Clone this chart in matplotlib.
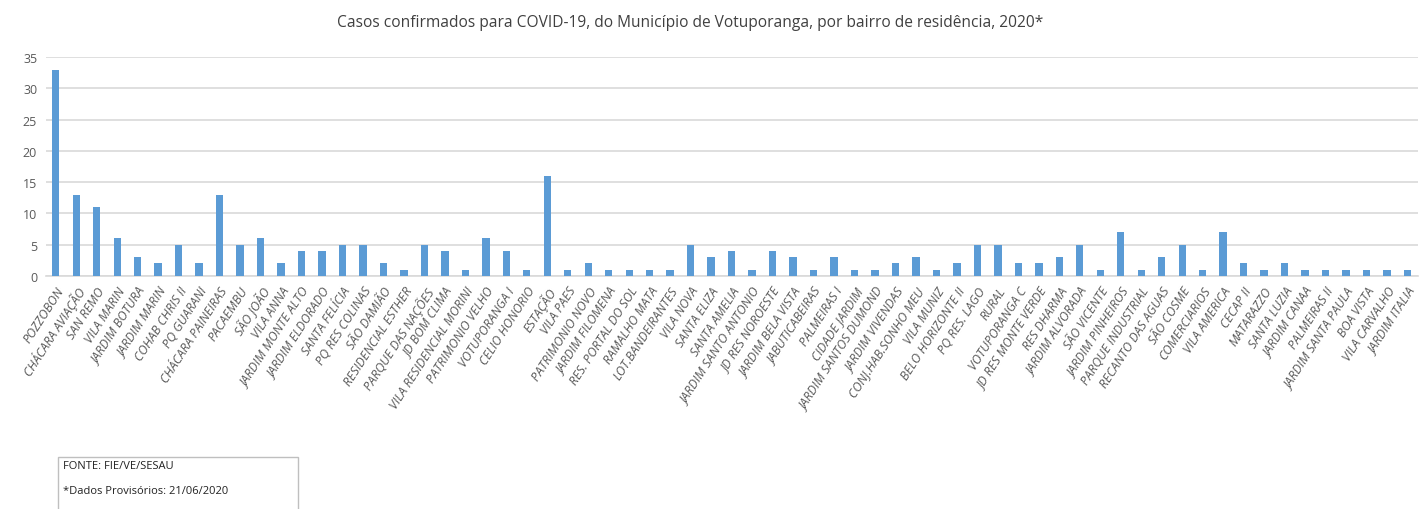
import matplotlib.pyplot as plt
from matplotlib.patches import Rectangle

plt.rcParams['font.family'] = ['Open Sans', 'DejaVu Sans']

# bairros e casos confirmados
bairros = [
    'POZZOBON', 'CHÁCARA AVIAÇÃO', 'SAN REMO', 'VILA MARIN', 'JARDIM BOTURA',
    'JARDIM MARIN', 'COHAB CHRIS II', 'PQ GUARANI', 'CHÁCARA PAINEIRAS', 'PACAEMBU',
    'SÃO JOÃO', 'VILA ANNA', 'JARDIM MONTE ALTO', 'JARDIM ELDORADO', 'SANTA FELÍCIA',
    'PQ RES COLINAS', 'SÃO DAMIÃO', 'RESIDENCIAL ESTHER', 'PARQUE DAS NAÇÕES', 'JD BOM CLIMA',
    'VILA RESIDENCIAL MORINI', 'PATRIMONIO VELHO', 'VOTUPORANGA I', 'CELIO HONORIO', 'ESTAÇÃO',
    'VILA PAES', 'PATRIMONIO NOVO', 'JARDIM FILOMENA', 'RES. PORTAL DO SOL', 'RAMALHO MATA',
    'LOT.BANDEIRANTES', 'VILA NOVA', 'SANTA ELIZA', 'SANTA AMELIA', 'JARDIM SANTO ANTONIO',
    'JD RES NOROESTE', 'JARDIM BELA VISTA', 'JABUTICABEIRAS', 'PALMEIRAS I', 'CIDADE JARDIM',
    'JARDIM SANTOS DUMOND', 'JARDIM VIVENDAS', 'CONJ.HAB.SONHO MEU', 'VILA MUNIZ', 'BELO HORIZONTE II',
    'PQ RES. LAGO', 'RURAL', 'VOTUPORANGA C', 'JD RES MONTE VERDE', 'RES DHARMA',
    'JARDIM ALVORADA', 'SÃO VICENTE', 'JARDIM PINHEIROS', 'PARQUE INDUSTRIAL', 'RECANTO DAS AGUAS',
    'SÃO COSME', 'COMERCIARIOS', 'VILA AMERICA', 'CECAP II', 'MATARAZZO',
    'SANTA LUZIA', 'JARDIM CANAA', 'PALMEIRAS II', 'JARDIM SANTA PAULA', 'BOA VISTA',
    'VILA CARVALHO', 'JARDIM ITALIA',
]
casos = [
    33, 13, 11, 6, 3,
    2, 5, 2, 13, 5,
    6, 2, 4, 4, 5,
    5, 2, 1, 5, 4,
    1, 6, 4, 1, 16,
    1, 2, 1, 1, 1,
    1, 5, 3, 4, 1,
    4, 3, 1, 3, 1,
    1, 2, 3, 1, 2,
    5, 5, 2, 2, 3,
    5, 1, 7, 1, 3,
    5, 1, 7, 2, 1,
    2, 1, 1, 1, 1,
    1, 1,
]
y_ticks = [0, 5, 10, 15, 20, 25, 30, 35]

fig = plt.figure(figsize=(14.22, 5.10), dpi=100)
ax = fig.add_axes([0.032, 0.457, 0.965, 0.429])

x = range(len(bairros))
ax.bar(x, casos, width=0.36, color='#5B9BD5', zorder=3)

ax.set_xlim(-0.5, len(bairros) - 0.5)
ax.set_ylim(0, 35)
ax.set_yticks(y_ticks)
ax.grid(True, axis='y', color='#D9D9D9', linewidth=1.2, zorder=0)
for s in ['top', 'right', 'left']:
    ax.spines[s].set_visible(False)
ax.spines['bottom'].set_color('#D9D9D9')
ax.spines['bottom'].set_linewidth(1.2)
ax.tick_params(axis='both', length=0, colors='#595959', labelsize=9, pad=6)
ax.set_xticks(list(x))
ax.set_xticklabels(bairros, rotation=57, ha='right', rotation_mode='anchor',
                   fontstyle='italic', fontsize=9, color='#595959')

fig.text(0.485, 0.955, 'Casos confirmados para COVID-19, do Município de Votuporanga, por bairro de residência, 2020*',
         ha='center', va='center', fontsize=11.2, color='#404040')

# caixa da fonte
fig.patches.append(Rectangle((58 / 1422, -0.01), 240 / 1422, 52 / 510 + 0.01,
                             transform=fig.transFigure, facecolor='white',
                             edgecolor='#BFBFBF', linewidth=1))
fig.text(63 / 1422, 1 - 467 / 510, 'FONTE: FIE/VE/SESAU', ha='left', va='center',
         fontsize=8, color='#222222')
fig.text(63 / 1422, 1 - 492 / 510, '*Dados Provisórios: 21/06/2020', ha='left', va='center',
         fontsize=8, color='#222222')

fig.savefig('out.png', dpi=100)
